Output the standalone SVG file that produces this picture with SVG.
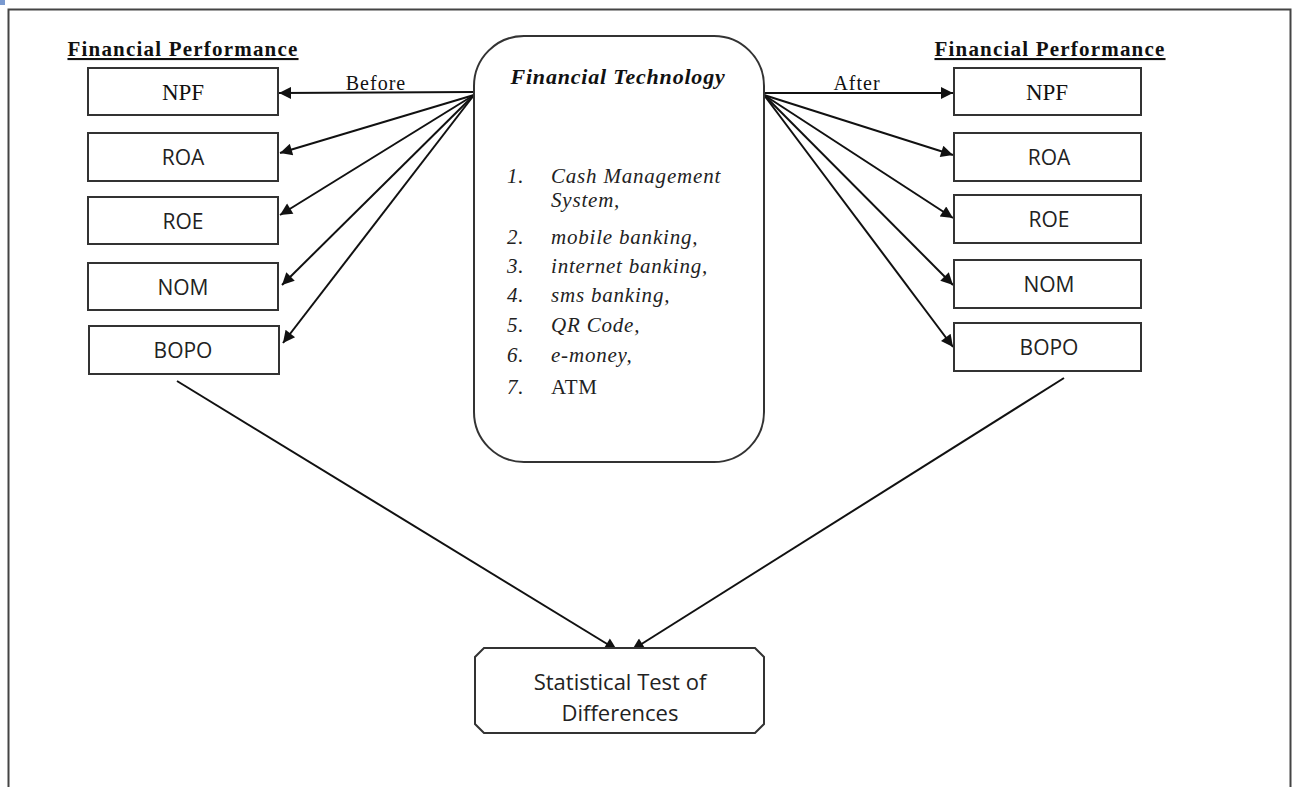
<svg xmlns="http://www.w3.org/2000/svg" width="1292" height="787" viewBox="0 0 1292 787">
<style>
.box{fill:#fff;stroke:#333;stroke-width:2}
.serif{font-family:"Liberation Serif",serif;fill:#111}
.sans{font-family:"Open Sans","Liberation Sans",sans-serif;fill:#222}
.hdr{font-family:"Liberation Serif",serif;font-weight:bold;font-size:21px;letter-spacing:1.2px;text-decoration:underline;fill:#111}
.it{font-family:"Liberation Serif",serif;font-style:italic;font-size:21px;letter-spacing:0.8px;fill:#222}
.con{stroke:#111;stroke-width:2;fill:none;marker-end:url(#ah)}
</style>
<defs>
<marker id="ah" viewBox="0 0 10 10" refX="10" refY="5" markerWidth="14" markerHeight="12" markerUnits="userSpaceOnUse" orient="auto"><path d="M0,0 L10,5 L0,10 z" fill="#111"/></marker>
</defs>
<rect x="0" y="0" width="1292" height="787" fill="#fff"/>
<rect x="0" y="0" width="5" height="5" fill="#7a9ad0"/>
<rect x="8.5" y="9.5" width="1282" height="800" fill="none" stroke="#444" stroke-width="2"/>

<text class="hdr" x="183" y="56" text-anchor="middle">Financial Performance</text>
<text class="hdr" x="1050" y="56" text-anchor="middle">Financial Performance</text>

<g id="connectors">
<path class="con" d="M474,92 L279,93"/>
<path class="con" d="M474,95 L280,153"/>
<path class="con" d="M474,95 L280,215"/>
<path class="con" d="M474,95 L282,285"/>
<path class="con" d="M474,95 L283,343"/>
<path class="con" d="M764,93 L953,93"/>
<path class="con" d="M764,95 L953,155"/>
<path class="con" d="M764,95 L953,218"/>
<path class="con" d="M764,95 L953,285"/>
<path class="con" d="M764,95 L953,347"/>
<path class="con" d="M177,381 L617,650"/>
<path class="con" d="M1064,378 L632,650"/>
<text class="serif" x="376" y="90" font-size="20" letter-spacing="1" text-anchor="middle">Before</text>
<text class="serif" x="857" y="90" font-size="20" letter-spacing="1" text-anchor="middle">After</text>
</g>

<g id="fintech">
<rect class="box" x="474" y="36" width="290" height="426" rx="50" ry="50"/>
<text x="618" y="84" text-anchor="middle" font-family="Liberation Serif,serif" font-style="italic" font-weight="bold" font-size="22" letter-spacing="0.8" fill="#111">Financial Technology</text>
<g class="it">
<text x="507" y="183">1.</text><text x="551" y="183">Cash Management</text>
<text x="551" y="207">System,</text>
<text x="507" y="244">2.</text><text x="551" y="244">mobile banking,</text>
<text x="507" y="273">3.</text><text x="551" y="273">internet banking,</text>
<text x="507" y="302">4.</text><text x="551" y="302">sms banking,</text>
<text x="507" y="332">5.</text><text x="551" y="332">QR Code,</text>
<text x="507" y="362">6.</text><text x="551" y="362">e-money,</text>
<text x="507" y="394">7.</text><text x="551" y="394" font-style="normal">ATM</text>
</g>
</g>

<g id="l-npf"><rect class="box" x="88" y="68" width="190" height="47"/><text class="serif" x="183" y="100" font-size="23" text-anchor="middle">NPF</text></g>
<g id="l-roa"><rect class="box" x="88" y="133" width="190" height="48"/><text class="sans" x="183" y="165" font-size="21" text-anchor="middle">ROA</text></g>
<g id="l-roe"><rect class="box" x="88" y="197" width="190" height="47"/><text class="sans" x="183" y="229" font-size="21" text-anchor="middle">ROE</text></g>
<g id="l-nom"><rect class="box" x="88" y="263" width="190" height="47"/><text class="sans" x="183" y="295" font-size="21" text-anchor="middle">NOM</text></g>
<g id="l-bopo"><rect class="box" x="89" y="326" width="190" height="48"/><text class="sans" x="183" y="358" font-size="21" text-anchor="middle">BOPO</text></g>

<g id="r-npf"><rect class="box" x="954" y="68" width="187" height="47"/><text class="serif" x="1047" y="100" font-size="23" text-anchor="middle">NPF</text></g>
<g id="r-roa"><rect class="box" x="954" y="133" width="187" height="48"/><text class="sans" x="1049" y="165" font-size="21" text-anchor="middle">ROA</text></g>
<g id="r-roe"><rect class="box" x="954" y="195" width="187" height="48"/><text class="sans" x="1049" y="227" font-size="21" text-anchor="middle">ROE</text></g>
<g id="r-nom"><rect class="box" x="954" y="260" width="187" height="48"/><text class="sans" x="1049" y="292" font-size="21" text-anchor="middle">NOM</text></g>
<g id="r-bopo"><rect class="box" x="954" y="323" width="187" height="48"/><text class="sans" x="1049" y="355" font-size="21" text-anchor="middle">BOPO</text></g>

<g id="stat">
<path class="box" d="M484,648 L755,648 L764,657 L764,724 L755,733 L484,733 L475,724 L475,657 Z"/>
<text class="sans" x="620" y="690" font-size="22" text-anchor="middle">Statistical Test of</text>
<text class="sans" x="620" y="721" font-size="22" text-anchor="middle">Differences</text>
</g>
</svg>
